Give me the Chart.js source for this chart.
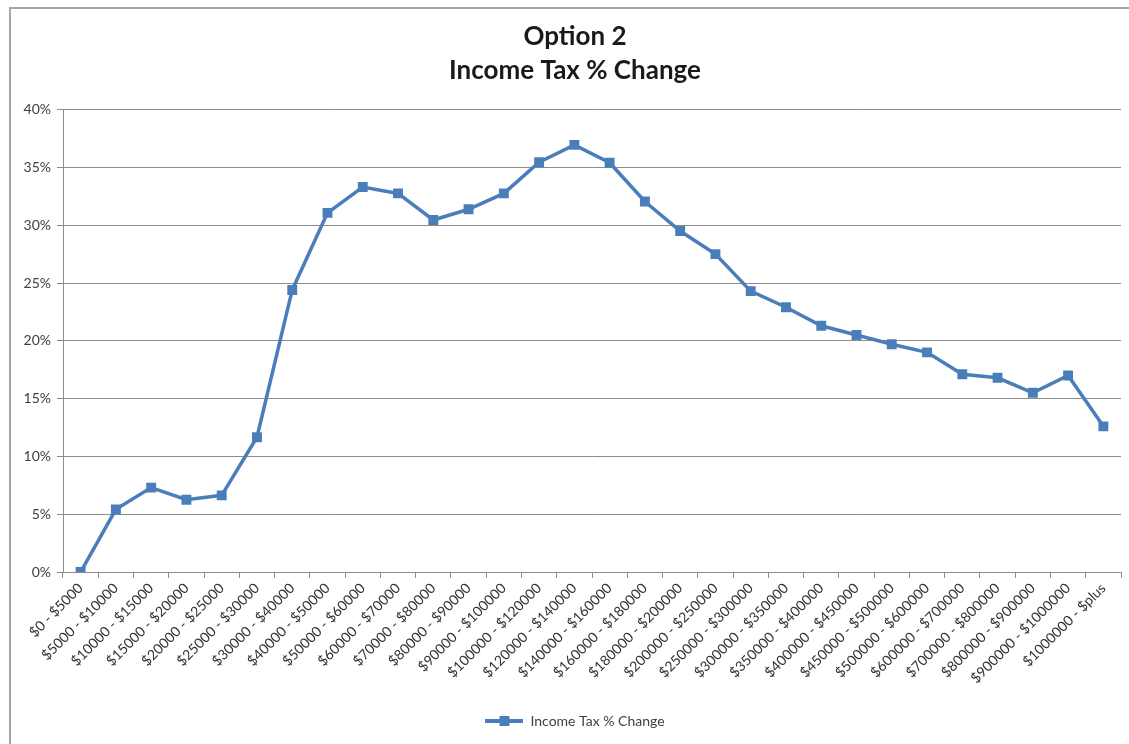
<!DOCTYPE html>
<html>
<head>
<meta charset="utf-8">
<script src="https://cdn.jsdelivr.net/npm/chart.js@4"></script>
<style>
    html, body { margin: 0; padding: 0; background: #ffffff; }
    #wrap { width: 1129px; height: 744px; }
</style>
</head>
<body>
<div id="wrap"><canvas id="grafica" width="1129" height="744"></canvas></div>
<script>
const categorias = [
    '$0 - $5000', '$5000 - $10000', '$10000 - $15000', '$15000 - $20000', '$20000 - $25000',
    '$25000 - $30000', '$30000 - $40000', '$40000 - $50000', '$50000 - $60000', '$60000 - $70000',
    '$70000 - $80000', '$80000 - $90000', '$90000 - $100000', '$100000 - $120000', '$120000 - $140000',
    '$140000 - $160000', '$160000 - $180000', '$180000 - $200000', '$200000 - $250000', '$250000 - $300000',
    '$300000 - $350000', '$350000 - $400000', '$400000 - $450000', '$450000 - $500000', '$500000 - $600000',
    '$600000 - $700000', '$700000 - $800000', '$800000 - $900000', '$900000 - $1000000', '$1000000 - $plus'
];
const cambioImpuesto = [
    0, 5.42, 7.3, 6.25, 6.63, 11.66, 24.4, 31.07, 33.3, 32.75,
    30.45, 31.38, 32.75, 35.45, 36.95, 35.4, 32.05, 29.5, 27.5, 24.3,
    22.9, 21.3, 20.5, 19.7, 19.0, 17.1, 16.8, 15.5, 17.0, 12.6
];
const ticksY = [0, 5, 10, 15, 20, 25, 30, 35, 40];

const azul = '#4a7ebb';
const gris = '#8c8c8c';
const fuente = 'Lato, "Open Sans", sans-serif';

// icono de la leyenda: linea con marcador cuadrado
const icono = document.createElement('canvas');
icono.width = 38;
icono.height = 12;
const ic = icono.getContext('2d');
ic.strokeStyle = azul;
ic.lineWidth = 4;
ic.beginPath();
ic.moveTo(0, 6);
ic.lineTo(38, 6);
ic.stroke();
ic.fillStyle = azul;
ic.fillRect(14, 1, 10, 10);

// marco gris y centrado del titulo/leyenda respecto al area del grafico
const marco = {
    id: 'marco',
    afterLayout(chart) {
        chart.titleBlock.left += 29;
        chart.legend.left += 29;
    },
    afterDraw(chart) {
        const ctx = chart.ctx;
        ctx.save();
        ctx.strokeStyle = '#a6a6a6';
        ctx.lineWidth = 2;
        ctx.beginPath();
        ctx.moveTo(10, 744);
        ctx.lineTo(10, 8);
        ctx.lineTo(1129, 8);
        ctx.stroke();
        ctx.restore();
    }
};

const ctx = document.getElementById('grafica').getContext('2d');
new Chart(ctx, {
    type: 'line',
    data: {
        labels: categorias,
        datasets: [{
            label: 'Income Tax % Change',
            data: cambioImpuesto,
            borderColor: azul,
            backgroundColor: azul,
            borderWidth: 3.5,
            pointStyle: 'rect',
            pointRadius: 7,
            pointHoverRadius: 7,
            pointBackgroundColor: azul,
            pointBorderWidth: 0,
            tension: 0,
            fill: false
        }]
    },
    options: {
        responsive: false,
        animation: false,
        layout: { padding: { left: 0, right: 8, top: 0, bottom: 6 } },
        plugins: {
            title: {
                display: true,
                text: ['Option 2', 'Income Tax % Change'],
                color: '#1a1a1a',
                font: { family: fuente, size: 26, weight: 'bold', lineHeight: 1.3 },
                padding: { top: 20, bottom: 22 }
            },
            legend: {
                position: 'bottom',
                labels: {
                    usePointStyle: true,
                    pointStyle: icono,
                    pointStyleWidth: 38,
                    color: '#404040',
                    font: { family: fuente, size: 14 },
                    padding: 10,
                    generateLabels(chart) {
                        return [{
                            text: chart.data.datasets[0].label,
                            pointStyle: icono,
                            fontColor: '#404040',
                            lineWidth: 0,
                            datasetIndex: 0
                        }];
                    }
                }
            },
            tooltip: { enabled: false }
        },
        scales: {
            x: {
                offset: true,
                grid: {
                    offset: true,
                    drawOnChartArea: false,
                    drawTicks: true,
                    tickLength: 6,
                    color: gris
                },
                border: { color: gris, width: 1 },
                ticks: {
                    autoSkip: false,
                    minRotation: 45,
                    maxRotation: 45,
                    color: '#333333',
                    font: { family: fuente, size: 14 },
                    padding: 2
                },
                afterFit(scale) { scale.height = 132; }
            },
            y: {
                min: 0,
                max: 40,
                afterBuildTicks(scale) {
                    scale.ticks = ticksY.map(v => ({ value: v }));
                },
                grid: {
                    color: gris,
                    lineWidth: 1,
                    drawTicks: true,
                    tickLength: 6
                },
                border: { color: gris, width: 1 },
                ticks: {
                    color: '#404040',
                    font: { family: fuente, size: 14 },
                    padding: 6,
                    callback: v => v + '%'
                },
                afterFit(scale) { scale.width = 63; }
            }
        }
    },
    plugins: [marco]
});
</script>
</body>
</html>
